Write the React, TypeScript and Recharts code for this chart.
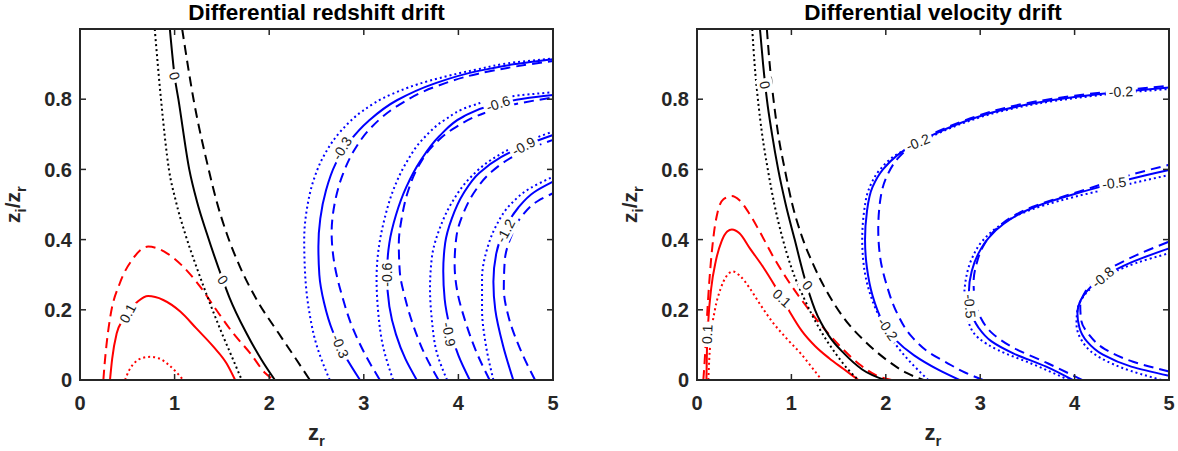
import { LineChart, Line, XAxis, YAxis, ReferenceDot } from "recharts";

type Pt = [number, number];

const X_DOMAIN: [number, number] = [0, 5];
const Y_DOMAIN: [number, number] = [0, 1];
const xTicks = [0, 1, 2, 3, 4, 5];
const yTicks = [0, 0.2, 0.4, 0.6, 0.8];

// ---------- Differential redshift drift ----------
const rsRedSolid: Pt[] = [[0.317, 0], [0.34, 0.06], [0.388, 0.133], [0.45, 0.17], [0.511, 0.193], [0.617, 0.225], [0.72, 0.239], [0.88, 0.228], [1.06, 0.195], [1.23, 0.147], [1.41, 0.095], [1.55, 0.047], [1.64, 0]];
const rsRedDashed: Pt[] = [[0.247, 0], [0.26, 0.045], [0.28, 0.1], [0.32, 0.18], [0.42, 0.275], [0.55, 0.342], [0.72, 0.38], [0.92, 0.361], [1.09, 0.323], [1.27, 0.266], [1.44, 0.2], [1.62, 0.133], [1.8, 0.076], [1.96, 0.019], [2.05, 0]];
const rsRedDotted: Pt[] = [[0.476, 0], [0.52, 0.028], [0.58, 0.05], [0.66, 0.063], [0.74, 0.066], [0.83, 0.062], [0.93, 0.045], [1.02, 0.022], [1.09, 0]];
const rsBlackSolid: Pt[] = [[0.95, 1], [1.0, 0.866], [1.04, 0.8], [1.155, 0.6], [1.24, 0.505], [1.34, 0.418], [1.51, 0.285], [1.58, 0.235], [1.76, 0.133], [1.92, 0.057], [2.06, 0]];
const rsBlackDashed: Pt[] = [[1.08, 1], [1.2, 0.8], [1.36, 0.6], [1.44, 0.513], [1.55, 0.418], [1.69, 0.323], [1.87, 0.228], [2.1, 0.133], [2.29, 0.057], [2.43, 0]];
const rsBlackDotted: Pt[] = [[0.79, 1], [0.856, 0.8], [0.94, 0.6], [1.01, 0.513], [1.11, 0.418], [1.23, 0.323], [1.36, 0.228], [1.5, 0.133], [1.62, 0.057], [1.71, 0]];
const rsBlue03Solid: Pt[] = [[2.96, 0], [2.8, 0.07], [2.67, 0.14], [2.58, 0.22], [2.53, 0.3], [2.52, 0.38], [2.54, 0.46], [2.6, 0.54], [2.7, 0.615], [2.85, 0.68], [3.05, 0.738], [3.35, 0.797], [3.73, 0.843], [4.2, 0.88], [4.6, 0.9], [5.0, 0.914]];
const rsBlue03Dashed: Pt[] = [[3.17, 0], [3.02, 0.07], [2.88, 0.15], [2.77, 0.24], [2.69, 0.33], [2.66, 0.42], [2.69, 0.5], [2.77, 0.58], [2.9, 0.655], [3.08, 0.72], [3.35, 0.78], [3.75, 0.835], [4.2, 0.872], [4.6, 0.893], [5.0, 0.909]];
const rsBlue03Dotted: Pt[] = [[2.64, 0], [2.5, 0.1], [2.42, 0.2], [2.38, 0.3], [2.37, 0.4], [2.4, 0.49], [2.47, 0.57], [2.59, 0.645], [2.76, 0.71], [2.98, 0.765], [3.3, 0.815], [3.7, 0.853], [4.2, 0.885], [4.6, 0.905], [5.0, 0.916]];
const rsBlue06Solid: Pt[] = [[3.56, 0], [3.44, 0.06], [3.34, 0.13], [3.27, 0.21], [3.245, 0.3], [3.27, 0.39], [3.34, 0.47], [3.45, 0.55], [3.6, 0.625], [3.8, 0.695], [4.05, 0.75], [4.35, 0.783], [4.7, 0.802], [5.0, 0.812]];
const rsBlue06Dashed: Pt[] = [[3.79, 0], [3.65, 0.07], [3.53, 0.15], [3.44, 0.23], [3.38, 0.31], [3.37, 0.39], [3.4, 0.46], [3.47, 0.54], [3.58, 0.61], [3.74, 0.67], [3.97, 0.72], [4.27, 0.76], [4.62, 0.787], [5.0, 0.805]];
const rsBlue06Dotted: Pt[] = [[3.31, 0], [3.2, 0.1], [3.15, 0.2], [3.135, 0.29], [3.16, 0.38], [3.22, 0.46], [3.31, 0.54], [3.44, 0.615], [3.62, 0.685], [3.85, 0.74], [4.15, 0.782], [4.55, 0.808], [5.0, 0.82]];
const rsBlue09Solid: Pt[] = [[4.12, 0], [4.0, 0.07], [3.91, 0.15], [3.855, 0.23], [3.84, 0.31], [3.86, 0.39], [3.93, 0.46], [4.05, 0.53], [4.22, 0.59], [4.45, 0.635], [4.72, 0.67], [5.0, 0.698]];
const rsBlue09Dashed: Pt[] = [[4.33, 0], [4.19, 0.08], [4.07, 0.17], [3.99, 0.25], [3.96, 0.33], [3.98, 0.41], [4.06, 0.48], [4.18, 0.54], [4.35, 0.593], [4.57, 0.635], [4.8, 0.664], [5.0, 0.684]];
const rsBlue09Dotted: Pt[] = [[3.88, 0], [3.77, 0.08], [3.72, 0.17], [3.7, 0.26], [3.72, 0.35], [3.8, 0.43], [3.93, 0.505], [4.12, 0.575], [4.35, 0.628], [4.62, 0.668], [5.0, 0.708]];
const rsBlue12Solid: Pt[] = [[4.58, 0], [4.47, 0.1], [4.39, 0.2], [4.37, 0.28], [4.4, 0.36], [4.49, 0.43], [4.63, 0.49], [4.8, 0.535], [5.0, 0.565]];
const rsBlue12Dashed: Pt[] = [[4.81, 0], [4.65, 0.09], [4.53, 0.18], [4.48, 0.26], [4.49, 0.34], [4.56, 0.41], [4.68, 0.47], [4.84, 0.51], [5.0, 0.532]];
const rsBlue12Dotted: Pt[] = [[4.37, 0], [4.29, 0.1], [4.25, 0.2], [4.25, 0.29], [4.3, 0.37], [4.4, 0.44], [4.55, 0.5], [4.75, 0.545], [5.0, 0.579]];

const rsLabels = [
  { x: 0.505, y: 0.19, text: "0.1", angle: -62 },
  { x: 1.0, y: 0.866, text: "0", angle: 75 },
  { x: 1.51, y: 0.285, text: "0", angle: 55 },
  { x: 2.77, y: 0.66, text: "-0.3", angle: -58 },
  { x: 2.75, y: 0.096, text: "-0.3", angle: 68 },
  { x: 3.245, y: 0.3, text: "-0.6", angle: -90 },
  { x: 4.42, y: 0.787, text: "-0.6", angle: -18 },
  { x: 3.9, y: 0.13, text: "-0.9", angle: 80 },
  { x: 4.69, y: 0.666, text: "-0.9", angle: -28 },
  { x: 4.5, y: 0.425, text: "-1.2", angle: -62 },
];

// ---------- Differential velocity drift ----------
const vdRedSolid: Pt[] = [[0.1, 0], [0.105, 0.08], [0.12, 0.17], [0.15, 0.26], [0.2, 0.34], [0.26, 0.395], [0.32, 0.423], [0.37, 0.429], [0.45, 0.418], [0.56, 0.375], [0.7, 0.322], [0.83, 0.266], [0.97, 0.2], [1.11, 0.14], [1.25, 0.097], [1.4, 0.062], [1.55, 0.032], [1.71, 0]];
const vdRedDashed: Pt[] = [[0.067, 0], [0.085, 0.07], [0.1, 0.15], [0.12, 0.24], [0.145, 0.33], [0.18, 0.42], [0.22, 0.48], [0.28, 0.515], [0.367, 0.524], [0.45, 0.512], [0.54, 0.48], [0.66, 0.425], [0.8, 0.355], [0.96, 0.285], [1.13, 0.22], [1.32, 0.155], [1.52, 0.095], [1.72, 0.045], [1.9, 0.013], [2.06, 0]];
const vdRedDotted: Pt[] = [[0.12, 0], [0.13, 0.06], [0.15, 0.13], [0.19, 0.2], [0.25, 0.26], [0.31, 0.295], [0.38, 0.309], [0.45, 0.298], [0.55, 0.265], [0.67, 0.215], [0.8, 0.165], [0.95, 0.118], [1.1, 0.075], [1.22, 0.035], [1.32, 0]];
const vdBlackSolid: Pt[] = [[0.667, 1], [0.7, 0.9], [0.74, 0.8], [0.795, 0.7], [0.86, 0.6], [0.94, 0.5], [1.035, 0.4], [1.13, 0.3], [1.25, 0.2], [1.4, 0.125], [1.56, 0.075], [1.75, 0.03], [1.99, 0]];
const vdBlackDashed: Pt[] = [[0.74, 1], [0.77, 0.9], [0.81, 0.8], [0.86, 0.7], [0.93, 0.6], [1.01, 0.5], [1.11, 0.41], [1.23, 0.33], [1.38, 0.25], [1.56, 0.175], [1.78, 0.11], [2.02, 0.055], [2.22, 0.02], [2.4, 0]];
const vdBlackDotted: Pt[] = [[0.585, 1], [0.61, 0.9], [0.645, 0.8], [0.69, 0.7], [0.75, 0.6], [0.82, 0.5], [0.9, 0.41], [1.0, 0.32], [1.13, 0.235], [1.3, 0.145], [1.47, 0.075], [1.6, 0.03], [1.71, 0]];
const vdBlue02Solid: Pt[] = [[2.78, 0], [2.55, 0.03], [2.3, 0.07], [2.1, 0.115], [1.96, 0.17], [1.86, 0.24], [1.8, 0.32], [1.78, 0.4], [1.8, 0.48], [1.86, 0.55], [1.97, 0.6], [2.12, 0.64], [2.3, 0.672], [2.55, 0.705], [2.85, 0.738], [3.2, 0.767], [3.6, 0.79], [4.0, 0.806], [4.5, 0.821], [5.0, 0.833]];
const vdBlue02Dashed: Pt[] = [[3.03, 0], [2.85, 0.02], [2.66, 0.047], [2.45, 0.08], [2.27, 0.125], [2.12, 0.19], [2.01, 0.27], [1.94, 0.35], [1.92, 0.43], [1.94, 0.51], [2.01, 0.58], [2.14, 0.635], [2.31, 0.674], [2.55, 0.708], [2.85, 0.741], [3.2, 0.771], [3.6, 0.794], [4.0, 0.81], [4.5, 0.825], [5.0, 0.838]];
const vdBlue02Dotted: Pt[] = [[2.45, 0], [2.24, 0.057], [2.08, 0.11], [1.95, 0.17], [1.84, 0.24], [1.77, 0.32], [1.75, 0.4], [1.77, 0.48], [1.83, 0.55], [1.94, 0.6], [2.1, 0.64], [2.3, 0.669], [2.55, 0.702], [2.85, 0.735], [3.2, 0.764], [3.6, 0.787], [4.0, 0.803], [4.5, 0.818], [5.0, 0.829]];
const vdBlue05Solid: Pt[] = [[3.98, 0], [3.7, 0.038], [3.35, 0.076], [3.12, 0.11], [2.98, 0.15], [2.9, 0.2], [2.88, 0.25], [2.91, 0.31], [2.98, 0.36], [3.09, 0.405], [3.25, 0.445], [3.45, 0.478], [3.7, 0.505], [4.0, 0.53], [4.35, 0.556], [4.7, 0.58], [5.0, 0.598]];
const vdBlue05Dashed: Pt[] = [[4.08, 0], [3.72, 0.047], [3.33, 0.095], [3.12, 0.135], [3.0, 0.18], [2.94, 0.23], [2.93, 0.28], [2.96, 0.33], [3.03, 0.38], [3.15, 0.425], [3.32, 0.462], [3.55, 0.493], [3.85, 0.52], [4.2, 0.55], [4.6, 0.585], [5.0, 0.613]];
const vdBlue05Dotted: Pt[] = [[3.94, 0], [3.54, 0.047], [3.19, 0.085], [2.98, 0.12], [2.87, 0.17], [2.83, 0.23], [2.85, 0.29], [2.91, 0.345], [3.02, 0.395], [3.18, 0.435], [3.4, 0.47], [3.68, 0.498], [4.0, 0.522], [4.35, 0.544], [4.7, 0.566], [5.0, 0.584]];
const vdBlue08Solid: Pt[] = [[5.0, 0.012], [4.6, 0.038], [4.3, 0.072], [4.13, 0.11], [4.05, 0.15], [4.03, 0.19], [4.07, 0.23], [4.17, 0.265], [4.33, 0.298], [4.6, 0.335], [5.0, 0.375]];
const vdBlue08Dashed: Pt[] = [[5.0, 0.024], [4.62, 0.052], [4.32, 0.088], [4.15, 0.13], [4.07, 0.17], [4.06, 0.21], [4.11, 0.25], [4.22, 0.285], [4.38, 0.318], [4.65, 0.355], [5.0, 0.394]];
const vdBlue08Dotted: Pt[] = [[4.92, 0], [4.5, 0.035], [4.22, 0.072], [4.07, 0.115], [4.02, 0.16], [4.03, 0.2], [4.1, 0.24], [4.23, 0.275], [4.4, 0.305], [4.65, 0.333], [5.0, 0.361]];

const vdLabels = [
  { x: 0.108, y: 0.13, text: "0.1", angle: -88 },
  { x: 0.9, y: 0.233, text: "0.1", angle: 42 },
  { x: 0.72, y: 0.84, text: "0", angle: 78 },
  { x: 1.17, y: 0.27, text: "0", angle: 50 },
  { x: 2.02, y: 0.145, text: "-0.2", angle: 55 },
  { x: 2.34, y: 0.677, text: "-0.2", angle: -22 },
  { x: 4.49, y: 0.821, text: "-0.2", angle: -3 },
  { x: 2.89, y: 0.21, text: "-0.5", angle: 85 },
  { x: 4.42, y: 0.561, text: "-0.5", angle: -7 },
  { x: 4.3, y: 0.293, text: "-0.8", angle: -40 },
];

// ---------- styling ----------
const AXIS = "#262626";
const FONT = "'Liberation Sans', Arial, Helvetica, sans-serif";
const RED = "#ff0000";
const BLUE = "#0000ff";
const BLACK = "#000000";
const CHART_H = 451;
const Y_AXIS_W = 70;
const X_AXIS_H = 40;
const TICK_LEN = 6;

type LineStyle = "solid" | "dashed" | "dotted";
type CurveKind = "monotone" | "monotoneY";
type Series = { id: string; pts: Pt[]; color: string; style: LineStyle; curve: CurveKind };
type Margin = { top: number; right: number; bottom: number; left: number };

const DASHES: Record<LineStyle, string | undefined> = {
  solid: undefined,
  dashed: "10 6",
  dotted: "2 3",
};

const redshiftSeries: Series[] = [
  { id: "rs-r-solid", pts: rsRedSolid, color: RED, style: "solid", curve: "monotone" },
  { id: "rs-r-dashed", pts: rsRedDashed, color: RED, style: "dashed", curve: "monotone" },
  { id: "rs-r-dotted", pts: rsRedDotted, color: RED, style: "dotted", curve: "monotone" },
  { id: "rs-k-solid", pts: rsBlackSolid, color: BLACK, style: "solid", curve: "monotone" },
  { id: "rs-k-dashed", pts: rsBlackDashed, color: BLACK, style: "dashed", curve: "monotone" },
  { id: "rs-k-dotted", pts: rsBlackDotted, color: BLACK, style: "dotted", curve: "monotone" },
  { id: "rs-b03-solid", pts: rsBlue03Solid, color: BLUE, style: "solid", curve: "monotoneY" },
  { id: "rs-b03-dashed", pts: rsBlue03Dashed, color: BLUE, style: "dashed", curve: "monotoneY" },
  { id: "rs-b03-dotted", pts: rsBlue03Dotted, color: BLUE, style: "dotted", curve: "monotoneY" },
  { id: "rs-b06-solid", pts: rsBlue06Solid, color: BLUE, style: "solid", curve: "monotoneY" },
  { id: "rs-b06-dashed", pts: rsBlue06Dashed, color: BLUE, style: "dashed", curve: "monotoneY" },
  { id: "rs-b06-dotted", pts: rsBlue06Dotted, color: BLUE, style: "dotted", curve: "monotoneY" },
  { id: "rs-b09-solid", pts: rsBlue09Solid, color: BLUE, style: "solid", curve: "monotoneY" },
  { id: "rs-b09-dashed", pts: rsBlue09Dashed, color: BLUE, style: "dashed", curve: "monotoneY" },
  { id: "rs-b09-dotted", pts: rsBlue09Dotted, color: BLUE, style: "dotted", curve: "monotoneY" },
  { id: "rs-b12-solid", pts: rsBlue12Solid, color: BLUE, style: "solid", curve: "monotoneY" },
  { id: "rs-b12-dashed", pts: rsBlue12Dashed, color: BLUE, style: "dashed", curve: "monotoneY" },
  { id: "rs-b12-dotted", pts: rsBlue12Dotted, color: BLUE, style: "dotted", curve: "monotoneY" },
];

const velocitySeries: Series[] = [
  { id: "vd-r-solid", pts: vdRedSolid, color: RED, style: "solid", curve: "monotone" },
  { id: "vd-r-dashed", pts: vdRedDashed, color: RED, style: "dashed", curve: "monotone" },
  { id: "vd-r-dotted", pts: vdRedDotted, color: RED, style: "dotted", curve: "monotone" },
  { id: "vd-k-solid", pts: vdBlackSolid, color: BLACK, style: "solid", curve: "monotone" },
  { id: "vd-k-dashed", pts: vdBlackDashed, color: BLACK, style: "dashed", curve: "monotone" },
  { id: "vd-k-dotted", pts: vdBlackDotted, color: BLACK, style: "dotted", curve: "monotone" },
  { id: "vd-b02-solid", pts: vdBlue02Solid, color: BLUE, style: "solid", curve: "monotoneY" },
  { id: "vd-b02-dashed", pts: vdBlue02Dashed, color: BLUE, style: "dashed", curve: "monotoneY" },
  { id: "vd-b02-dotted", pts: vdBlue02Dotted, color: BLUE, style: "dotted", curve: "monotoneY" },
  { id: "vd-b05-solid", pts: vdBlue05Solid, color: BLUE, style: "solid", curve: "monotoneY" },
  { id: "vd-b05-dashed", pts: vdBlue05Dashed, color: BLUE, style: "dashed", curve: "monotoneY" },
  { id: "vd-b05-dotted", pts: vdBlue05Dotted, color: BLUE, style: "dotted", curve: "monotoneY" },
  { id: "vd-b08-solid", pts: vdBlue08Solid, color: BLUE, style: "solid", curve: "monotoneY" },
  { id: "vd-b08-dashed", pts: vdBlue08Dashed, color: BLUE, style: "dashed", curve: "monotoneY" },
  { id: "vd-b08-dotted", pts: vdBlue08Dotted, color: BLUE, style: "dotted", curve: "monotoneY" },
];

const toRows = (pts: Pt[]) => pts.map(([x, y]) => ({ x, y }));

const LABEL_SIZE = 14;
const CHAR_EM: Record<string, number> = { "-": 0.333, ".": 0.278 };

function ContourTag({ cx, cy, text, angle }: { cx: number; cy: number; text: string; angle: number }) {
  const w = text.split("").reduce((s, c) => s + (CHAR_EM[c] ?? 0.556) * LABEL_SIZE, 0) + 6;
  return (
    <g transform={`translate(${cx},${cy}) rotate(${angle})`}>
      <rect x={-w / 2} y={-8} width={w} height={16} fill="#ffffff" />
      <text x={0} y={0} dy="0.35em" textAnchor="middle" fontSize={LABEL_SIZE} fontFamily={FONT} fill="#1a1a1a">
        {text}
      </text>
    </g>
  );
}

// eslint-disable-next-line @typescript-eslint/no-explicit-any
function XLabel({ viewBox }: any) {
  if (!viewBox) return null;
  const { x, y, width } = viewBox;
  return (
    <text x={x + width / 2} y={y + 60} textAnchor="middle" fontFamily={FONT} fontWeight={700} fontSize={22} fill={AXIS}>
      z<tspan fontSize={15} dy={6}>r</tspan>
    </text>
  );
}

// eslint-disable-next-line @typescript-eslint/no-explicit-any
function YLabel({ viewBox }: any) {
  if (!viewBox) return null;
  const { x, y, width, height } = viewBox;
  const cx = x + width - 60;
  const cy = y + height / 2;
  return (
    <text transform={`translate(${cx},${cy}) rotate(-90)`} textAnchor="middle" fontFamily={FONT} fontWeight={700} fontSize={21} fill={AXIS}>
      z<tspan fontSize={15} dy={6}>i</tspan>
      <tspan dy={-6}>/z</tspan>
      <tspan fontSize={15} dy={6}>r</tspan>
    </text>
  );
}

// MATLAB-style box with inward ticks on all four sides, laid over the plot area
function AxesBox({ width, margin }: { width: number; margin: Margin }) {
  const left = margin.left + Y_AXIS_W;
  const top = margin.top;
  const w = width - left - margin.right;
  const h = CHART_H - top - margin.bottom - X_AXIS_H;
  const sx = (v: number) => left + ((v - X_DOMAIN[0]) / (X_DOMAIN[1] - X_DOMAIN[0])) * w;
  const sy = (v: number) => top + h - ((v - Y_DOMAIN[0]) / (Y_DOMAIN[1] - Y_DOMAIN[0])) * h;
  return (
    <svg width={width} height={CHART_H} style={{ position: "absolute", left: 0, top: 0, pointerEvents: "none", zIndex: 2 }}>
      <rect x={left} y={top} width={w} height={h} fill="none" stroke={AXIS} strokeWidth={2} />
      <g stroke={AXIS} strokeWidth={1.5}>
        {xTicks.slice(1, -1).map((t) => (
          <g key={`x${t}`}>
            <line x1={sx(t)} x2={sx(t)} y1={top + h} y2={top + h - TICK_LEN} />
            <line x1={sx(t)} x2={sx(t)} y1={top} y2={top + TICK_LEN} />
          </g>
        ))}
        {yTicks.slice(1).map((t) => (
          <g key={`y${t}`}>
            <line x1={left} x2={left + TICK_LEN} y1={sy(t)} y2={sy(t)} />
            <line x1={left + w} x2={left + w - TICK_LEN} y1={sy(t)} y2={sy(t)} />
          </g>
        ))}
      </g>
    </svg>
  );
}

const tickStyle = { fill: AXIS, fontSize: 20, fontWeight: 700, fontFamily: FONT };
const axisLine = { stroke: AXIS, strokeWidth: 2 };

function DriftPanel({
  title,
  series,
  labels,
  left,
  width,
  margin,
}: {
  title: string;
  series: Series[];
  labels: { x: number; y: number; text: string; angle: number }[];
  left: number;
  width: number;
  margin: Margin;
}) {
  const plotLeft = margin.left + Y_AXIS_W;
  const plotWidth = width - plotLeft - margin.right;
  return (
    <div style={{ position: "absolute", left, top: 0, width, height: CHART_H }}>
      <LineChart width={width} height={CHART_H} margin={margin}>
        <XAxis
          type="number"
          dataKey="x"
          domain={X_DOMAIN}
          ticks={xTicks}
          interval={0}
          height={X_AXIS_H}
          tickSize={0}
          tickMargin={16}
          axisLine={axisLine}
          tickLine={false}
          tick={tickStyle}
          label={<XLabel />}
        />
        <YAxis
          type="number"
          domain={Y_DOMAIN}
          ticks={yTicks}
          interval={0}
          width={Y_AXIS_W}
          tickSize={0}
          tickMargin={8}
          axisLine={axisLine}
          tickLine={false}
          tick={tickStyle}
          label={<YLabel />}
        />
        {series.map((s) => (
          <Line
            key={s.id}
            data={toRows(s.pts)}
            dataKey="y"
            type={s.curve}
            stroke={s.color}
            strokeWidth={2}
            strokeDasharray={DASHES[s.style]}
            dot={false}
            activeDot={false}
            isAnimationActive={false}
            legendType="none"
          />
        ))}
        {labels.map((l, i) => (
          <ReferenceDot
            key={`lab-${i}`}
            x={l.x}
            y={l.y}
            r={0}
            ifOverflow="visible"
            // eslint-disable-next-line @typescript-eslint/no-explicit-any
            shape={(p: any) => <ContourTag cx={p.cx} cy={p.cy} text={l.text} angle={l.angle} />}
          />
        ))}
      </LineChart>
      <AxesBox width={width} margin={margin} />
      <div
        style={{
          position: "absolute",
          left: plotLeft,
          width: plotWidth,
          top: 2,
          textAlign: "center",
          fontFamily: FONT,
          fontWeight: 700,
          fontSize: 22.5,
          lineHeight: "22px",
          color: "#000",
          whiteSpace: "nowrap",
        }}
      >
        {title}
      </div>
    </div>
  );
}

export default function App() {
  return (
    <div style={{ position: "absolute", left: 0, top: 0, width: 1178, height: CHART_H, background: "#fff", overflow: "hidden" }}>
      <DriftPanel
        title="Differential redshift drift"
        series={redshiftSeries}
        labels={rsLabels}
        left={0}
        width={600}
        margin={{ top: 29, right: 47, bottom: 31, left: 10 }}
      />
      <DriftPanel
        title="Differential velocity drift"
        series={velocitySeries}
        labels={vdLabels}
        left={600}
        width={578}
        margin={{ top: 29, right: 9, bottom: 31, left: 27 }}
      />
    </div>
  );
}
